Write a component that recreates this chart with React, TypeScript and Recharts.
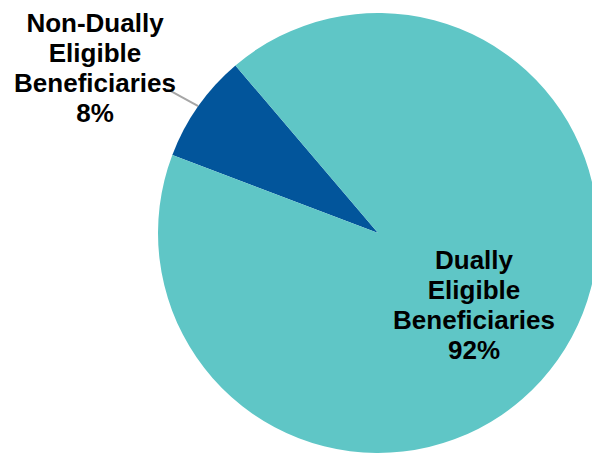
import { PieChart, Pie, Cell } from 'recharts'

const categories = ['Non-Dually Eligible Beneficiaries', 'Dually Eligible Beneficiaries']
const labelLines = [
  ['Non-Dually', 'Eligible', 'Beneficiaries'],
  ['Dually', 'Eligible', 'Beneficiaries'],
]
const shares = [8, 92]

const colors = ['#02559B', '#5FC6C6']

const data = categories.map((name, i) => ({ name, value: shares[i], lines: labelLines[i] }))

// label placement relative to pie centre (outside for small slice, inside for big one)
const labelOffsets = [
  { dx: -283, dy: -201 },
  { dx: 96, dy: 36 },
]

const RADIAN = Math.PI / 180

const renderLabel = (props: any) => {
  const { cx, cy, midAngle, outerRadius, index, payload, value } = props
  const off = labelOffsets[index]
  const x = cx + off.dx
  const y0 = cy + off.dy
  const lines: string[] = [...(payload.lines || data[index].lines), `${value}%`]
  let leader = null
  if (index === 0) {
    // leader line from the slice edge out to the label
    const sx = cx + outerRadius * Math.cos(-midAngle * RADIAN)
    const sy = cy + outerRadius * Math.sin(-midAngle * RADIAN)
    leader = <line x1={sx} y1={sy} x2={sx - 31} y2={sy - 17} stroke="#A6A6A6" strokeWidth={2} />
  }
  return (
    <g key={`lbl-${index}`}>
      {leader}
      <text
        x={x}
        y={y0}
        textAnchor="middle"
        fill="#000"
        fontFamily="'Liberation Sans', Arial, sans-serif"
        fontWeight="bold"
        fontSize={26}
      >
        {lines.map((l, i) => (
          <tspan key={i} x={x} y={y0 + i * 30}>
            {l}
          </tspan>
        ))}
      </text>
    </g>
  )
}

export default function App() {
  return (
    <div style={{ position: 'absolute', left: 0, top: 0, width: 592, height: 455, background: '#fff' }}>
      <PieChart width={592} height={455} margin={{ top: 0, right: 0, bottom: 0, left: 0 }}>
        <Pie
          data={data}
          dataKey="value"
          nameKey="name"
          cx={378}
          cy={233}
          outerRadius={220}
          startAngle={130.4}
          endAngle={490.4}
          stroke="none"
          label={renderLabel}
          labelLine={false}
          isAnimationActive={false}
        >
          {data.map((d, i) => (
            <Cell key={d.name} fill={colors[i]} />
          ))}
        </Pie>
      </PieChart>
    </div>
  )
}
